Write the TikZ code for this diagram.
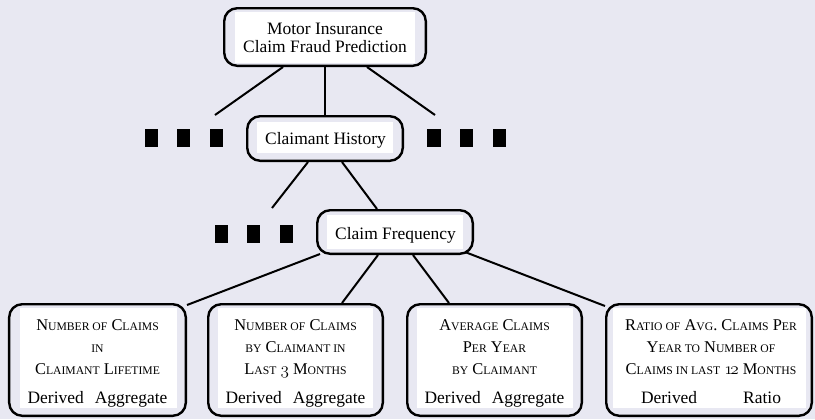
\documentclass[tikz,border=0pt]{standalone}
\usepackage{fontspec}
\setmainfont{Liberation Serif}
\definecolor{bg}{RGB}{232,232,242}
\newcommand\smc[1]{{\fontsize{11.7}{12}\selectfont #1}}
\newcommand\osn[1]{{\usefont{OML}{cmm}{m}{it}#1}}
\tikzset{
  outer/.style={draw=black, line width=2.4bp, rounded corners=13bp, fill=bg, inner sep=0pt},
  inner/.style={fill=white, inner sep=0pt},
  big/.style={font=\fontsize{17.5}{17.5}\selectfont, inner sep=0pt, align=center, anchor=base},
  sctext/.style={font=\fontsize{16.5}{22}\selectfont, inner sep=0pt, align=center, anchor=base},
  blk/.style={fill=black, inner sep=0pt, minimum width=13.5bp, minimum height=18bp},
  link/.style={line width=2bp}
}
\newcommand\dar[1]{\\[7bp]{\fontsize{17.5}{22}\selectfont #1}}
\begin{document}
\begin{tikzpicture}[x=1bp,y=-1bp]
\fill[bg] (0,0) rectangle (815,419);
\useasboundingbox (0,0) rectangle (815,419);

% top node
\node[outer, minimum width=201.6bp, minimum height=57.6bp] (top) at (325,37) {};
\node[inner, minimum width=180bp, minimum height=51bp] (topw) at (325,37.5) {};
\node[big] (topt) at (325,52) {Motor Insurance\\Claim Fraud Prediction};

% claimant history
\node[outer, minimum width=155.6bp, minimum height=44.6bp] (ch) at (325,138.5) {};
\node[inner, minimum width=136bp, minimum height=31bp] (chw) at (325,137.5) {};
\node[big] (cht) at (325.5,144) {Claimant History};

% claim frequency
\node[outer, minimum width=155.6bp, minimum height=43.6bp] (cf) at (395,232) {};
\node[inner, minimum width=136bp, minimum height=34bp] (cfw) at (395,232) {};
\node[big] (cft) at (395.5,239) {Claim Frequency};

% ellipsis blocks
\node[blk] (l1) at (151.7,138.3) {};
\node[blk] (l2) at (183.7,138.3) {};
\node[blk] (l3) at (216.3,138.3) {};
\node[blk] (r1) at (434.2,138.3) {};
\node[blk] (r2) at (466.5,138.3) {};
\node[blk] (r3) at (499.7,138.3) {};
\node[blk] (m1) at (221.7,234) {};
\node[blk] (m2) at (253.7,234) {};
\node[blk] (m3) at (286.3,234) {};

% bottom boxes
\node[outer, minimum width=176.6bp, minimum height=111.6bp] (b1) at (97.5,360) {};
\node[inner, minimum width=157bp, minimum height=100bp] (b1w) at (98.5,358) {};
\node[sctext] (b1t) at (97.5,403) {N\smc{UMBER OF} C\smc{LAIMS}\\\smc{IN}\\C\smc{LAIMANT} L\smc{IFETIME}\dar{Derived\hspace{11bp}Aggregate}};

\node[outer, minimum width=174.6bp, minimum height=111.6bp] (b2) at (295.5,360) {};
\node[inner, minimum width=155bp, minimum height=100bp] (b2w) at (295.5,358) {};
\node[sctext] (b2t) at (295.5,403) {N\smc{UMBER OF} C\smc{LAIMS}\\\smc{BY} C\smc{LAIMANT IN}\\L\smc{AST} \osn{3} M\smc{ONTHS}\dar{Derived\hspace{11bp}Aggregate}};

\node[outer, minimum width=174.6bp, minimum height=111.6bp] (b3) at (494.5,360) {};
\node[inner, minimum width=156bp, minimum height=100bp] (b3w) at (495,358) {};
\node[sctext] (b3t) at (494.5,403) {A\smc{VERAGE} C\smc{LAIMS}\\P\smc{ER} Y\smc{EAR}\\\smc{BY} C\smc{LAIMANT}\dar{Derived\hspace{11bp}Aggregate}};

\node[outer, minimum width=205.6bp, minimum height=111.6bp] (b4) at (709,360) {};
\node[inner, minimum width=193bp, minimum height=100bp] (b4w) at (709.5,358) {};
\node[sctext] (b4t) at (711,403) {R\smc{ATIO OF} A\smc{VG}. C\smc{LAIMS} P\smc{ER}\\Y\smc{EAR TO} N\smc{UMBER OF}\\C\smc{LAIMS IN LAST} \osn{1\kern-2.5bp 2} M\smc{ONTHS}\dar{Derived\hspace{46bp}Ratio}};

% free ends
\coordinate (e1) at (215,115);
\coordinate (e2) at (435,115);
\coordinate (e3) at (272,208);

% connectors
\draw[link] ([xshift=-42bp]top.south) -- (e1);
\draw[link] (top.south) -- (ch.north);
\draw[link] ([xshift=42bp]top.south) -- (e2);
\draw[link] ([xshift=-17bp]ch.south) -- (e3);
\draw[link] ([xshift=17bp]ch.south) -- ([xshift=-18bp]cf.north);
\draw[link] ([xshift=-75bp,yshift=1bp]cf.south) -- ([yshift=-2bp]b1.north east);
\draw[link] ([xshift=-17bp]cf.south) -- ([xshift=46.5bp]b2.north);
\draw[link] ([xshift=18bp]cf.south) -- ([xshift=-45.5bp]b3.north);
\draw[link] ([xshift=70bp,yshift=3bp]cf.south) -- ([yshift=-3bp]b4.north west);
\end{tikzpicture}
\end{document}
